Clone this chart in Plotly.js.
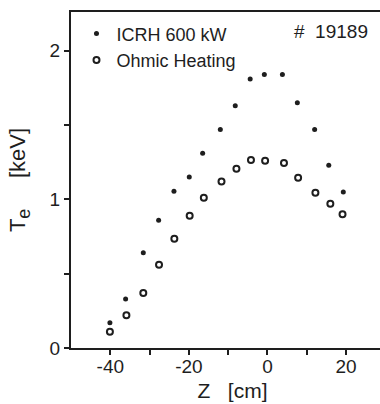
<!DOCTYPE html>
<html>
<head>
<meta charset="utf-8">
<script src="https://cdn.plot.ly/plotly-3.0.1.min.js"></script>
<style>html,body{margin:0;padding:0;background:#fff;overflow:hidden;}#chart{width:380px;height:404px;overflow:hidden;}</style>
</head>
<body>
<div id="chart"></div>
<script>
// Z positions [cm] and electron temperature [keV]
var icrhZ  = [-40.1, -36.1, -31.6, -27.7, -23.8, -19.9, -16.5, -12.0, -8.2, -4.4, -0.8, 3.8, 7.6, 12.0, 15.6, 19.3];
var icrhTe = [0.17, 0.33, 0.64, 0.86, 1.055, 1.15, 1.31, 1.47, 1.63, 1.81, 1.84, 1.84, 1.65, 1.47, 1.23, 1.05];
var ohmZ   = [-40.1, -35.9, -31.6, -27.6, -23.7, -19.8, -16.2, -11.7, -7.9, -4.2, -0.6, 4.2, 7.8, 12.2, 16.0, 19.1];
var ohmTe  = [0.11, 0.22, 0.37, 0.56, 0.735, 0.89, 1.01, 1.12, 1.205, 1.265, 1.26, 1.245, 1.145, 1.045, 0.97, 0.90];

var xTickVals = [-40, -20, 0, 20];
var xTickText = ['-40', '-20', '0', '20'];
var xMinorVals = [-30, -10, 10, 30];
var yTickVals = [0, 1, 2];
var yTickText = ['0', '1', '2'];
var yMinorVals = [0.5, 1.5];

var ink = '#1e1e1e';
var fontFam = 'Liberation Sans, Arial, sans-serif';
var nb = '\u00a0';

var traces = [
  {x: icrhZ, y: icrhTe, type: 'scatter', mode: 'markers', name: 'ICRH 600 kW',
   marker: {symbol: 'circle', size: 5, color: ink}},
  {x: ohmZ, y: ohmTe, type: 'scatter', mode: 'markers', name: 'Ohmic Heating',
   marker: {symbol: 'circle-open', size: 6, color: ink, line: {width: 2, color: ink}}}
];

var layout = {
  width: 394, height: 404,
  margin: {l: 71, r: 0, t: 12, b: 56},
  paper_bgcolor: '#fff', plot_bgcolor: '#fff',
  font: {family: fontFam, size: 18, color: ink},
  showlegend: true,
  legend: {x: 0.017, y: 0.99, xanchor: 'left', yanchor: 'top', bgcolor: 'rgba(0,0,0,0)',
           font: {size: 18, color: ink}, itemwidth: 30, tracegroupgap: 0},
  xaxis: {range: [-50, 32.2], tickmode: 'array', tickvals: xTickVals, ticktext: xTickText,
          ticks: 'outside', ticklen: 5, tickwidth: 2, tickcolor: ink,
          minor: {tickmode: 'array', tickvals: xMinorVals, ticks: 'outside', ticklen: 5, tickwidth: 2, tickcolor: ink, showgrid: false},
          showline: true, linewidth: 2, linecolor: ink, mirror: true,
          showgrid: false, zeroline: false, tickfont: {size: 19}, ticklabelstandoff: -5,
          title: {text: 'Z' + nb + nb + nb + '[cm]', font: {size: 21}, standoff: 8}},
  yaxis: {range: [0, 2.26], tickmode: 'array', tickvals: yTickVals, ticktext: yTickText,
          ticks: 'outside', ticklen: 5, tickwidth: 2, tickcolor: ink,
          minor: {tickmode: 'array', tickvals: yMinorVals, ticks: 'outside', ticklen: 5, tickwidth: 2, tickcolor: ink, showgrid: false},
          showline: true, linewidth: 2, linecolor: ink,
          showgrid: false, zeroline: false, tickfont: {size: 19},
          title: {text: 'T<sub><span style="font-size:18px">e</span></sub>' + nb + nb + nb + nb + nb + '[keV]', font: {size: 22}, standoff: 18}},
  annotations: [
    {text: '#' + nb + nb + '19189', xref: 'paper', yref: 'paper', x: 0.926, y: 0.979, xanchor: 'right', yanchor: 'top',
     showarrow: false, font: {size: 19, color: ink}}
  ]
};

Plotly.newPlot('chart', traces, layout, {displayModeBar: false, staticPlot: true});
</script>
</body>
</html>
